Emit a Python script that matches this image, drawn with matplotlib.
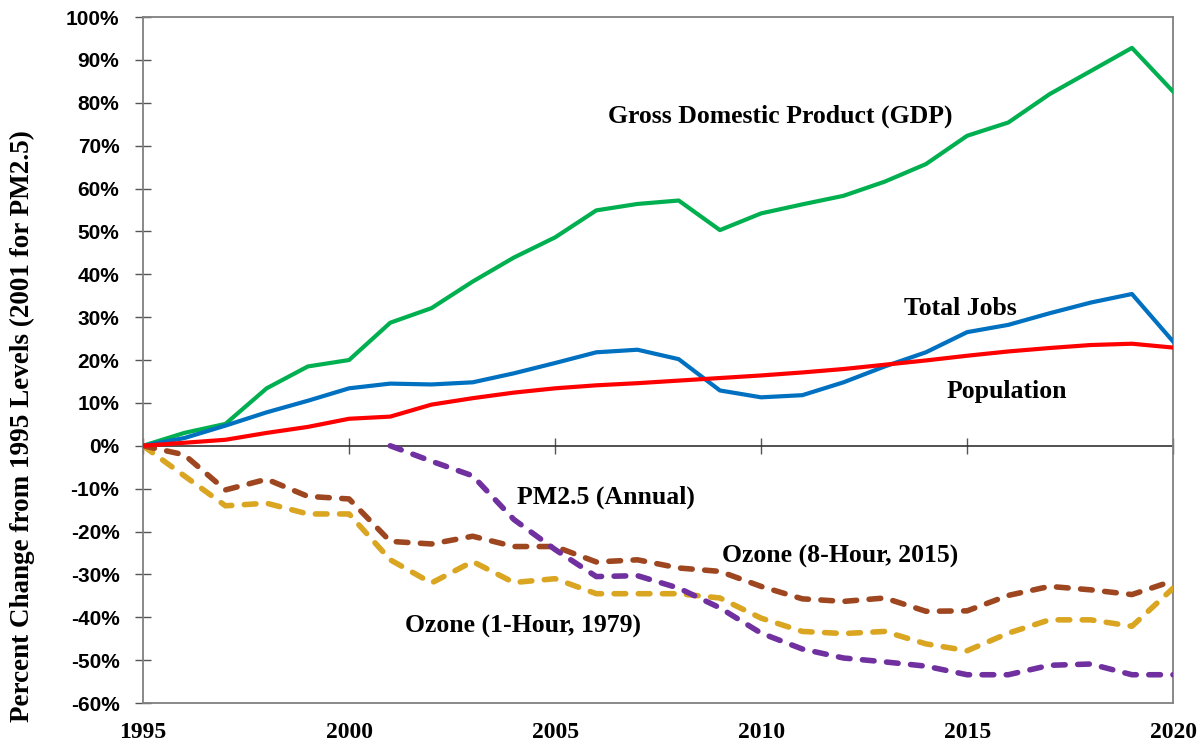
import numpy as np
import matplotlib
matplotlib.use('Agg')
from matplotlib import pyplot as plt
from matplotlib.ticker import FuncFormatter

years = np.arange(1995, 2021)
pm_years = np.arange(2001, 2021)

gdp = [0, 3.0, 5.1, 13.4, 18.5, 20.0, 28.7, 32.1, 38.3, 43.9, 48.6, 54.9, 56.4, 57.2,
       50.3, 54.2, 56.3, 58.3, 61.6, 65.7, 72.3, 75.4, 82.0, 87.4, 92.8, 82.6]
jobs = [0, 1.8, 4.7, 7.8, 10.5, 13.4, 14.5, 14.3, 14.8, 16.9, 19.3, 21.8, 22.4, 20.2,
        12.9, 11.3, 11.8, 14.8, 18.5, 21.8, 26.5, 28.2, 30.9, 33.4, 35.4, 24.3]
population = [0, 0.7, 1.4, 3.0, 4.4, 6.3, 6.8, 9.6, 11.1, 12.4, 13.4, 14.1, 14.6, 15.2,
              15.8, 16.4, 17.1, 17.9, 18.9, 19.9, 21.0, 22.0, 22.8, 23.5, 23.8, 22.9]
ozone_8hr = [0, -2.1, -10.3, -7.8, -11.8, -12.4, -22.3, -22.9, -21.1, -23.5, -23.5, -27.1,
             -26.6, -28.5, -29.3, -32.8, -35.7, -36.3, -35.5, -38.6, -38.5, -34.9, -32.8,
             -33.6, -34.7, -31.5]
ozone_1hr = [0, -7.0, -14.0, -13.4, -15.9, -15.9, -26.6, -32.0, -27.0, -31.9, -31.0, -34.5,
             -34.5, -34.5, -35.5, -40.2, -43.3, -43.8, -43.3, -46.2, -47.8, -43.7, -40.6,
             -40.6, -42.1, -33.2]
pm25 = [0, -3.6, -7.0, -17.2, -24.2, -30.5, -30.3, -33.2, -37.8, -43.7, -47.4, -49.5,
        -50.4, -51.4, -53.4, -53.4, -51.2, -50.9, -53.4, -53.4]

serif = ['Liberation Serif', 'DejaVu Serif']
sans = ['Liberation Sans', 'DejaVu Sans']

fig = plt.figure(figsize=(12.02, 7.46), dpi=100)
ax = fig.add_axes([0.119, 0.0576, 0.857, 0.9196])

# solid series
ax.plot(years, gdp, color='#00B050', lw=3, solid_joinstyle='round', zorder=3)
ax.plot(years, jobs, color='#0070C0', lw=3, solid_joinstyle='round', zorder=3)
ax.plot(years, population, color='#FF0000', lw=3, solid_joinstyle='round', zorder=4)

# dashed series
for vals, xs, col in [(ozone_1hr, years, '#DAA520'),
                      (ozone_8hr, years, '#9E4620'),
                      (pm25, pm_years, '#7030A0')]:
    ln, = ax.plot(xs, vals, color=col, lw=4, dash_capstyle='round',
                  dash_joinstyle='round', zorder=3)
    ln.set_dashes([2.1, 2.25])

ax.set_xlim(1995, 2020)
ax.set_ylim(-60, 100)
ax.set_yticks(np.arange(-60, 101, 10))
ax.yaxis.set_major_formatter(FuncFormatter(lambda v, p: '%d%%' % v))
ax.set_xticks(np.arange(1995, 2021, 5))
ax.tick_params(axis='y', direction='inout', length=12, width=1, color='#555555', pad=11)
ax.tick_params(axis='x', length=0, pad=14)
for lab in ax.get_xticklabels():
    lab.set_fontfamily(serif)
    lab.set_fontweight('bold')
    lab.set_fontsize(17)
for lab in ax.get_yticklabels():
    lab.set_fontfamily(sans)
    lab.set_fontweight('bold')
    lab.set_fontsize(15)

for s in ax.spines.values():
    s.set_color('#808080')
    s.set_linewidth(1.3)

# zero line with crossing ticks
zero = ax.secondary_xaxis(0, transform=ax.transData)
zero.set_xticks(np.arange(1995, 2021, 5))
zero.tick_params(direction='inout', length=11.5, width=1, color='#555555', labelbottom=False)
zero.spines['bottom'].set_color('#333333')
zero.spines['bottom'].set_linewidth(1.2)

ax.set_ylabel('Percent Change from 1995 Levels (2001 for PM2.5)', fontfamily=serif,
              fontweight='bold', fontsize=19.5, va='center')
ax.yaxis.set_label_coords(-0.1175, 0.404)

lab_kw = dict(fontfamily=serif, fontweight='bold', fontsize=18.5, ha='center', va='center')
ax.text(2010.46, 76.8, 'Gross Domestic Product (GDP)', **lab_kw)
ax.text(2014.84, 31.95, 'Total Jobs', **lab_kw)
ax.text(2015.97, 12.66, 'Population', **lab_kw)
ax.text(2006.24, -11.9, 'PM2.5 (Annual)', **lab_kw)
ax.text(2011.92, -25.8, 'Ozone (8-Hour, 2015)', **lab_kw)
ax.text(2004.22, -42.1, 'Ozone (1-Hour, 1979)', **lab_kw)

fig.savefig('out.png', dpi=100)
